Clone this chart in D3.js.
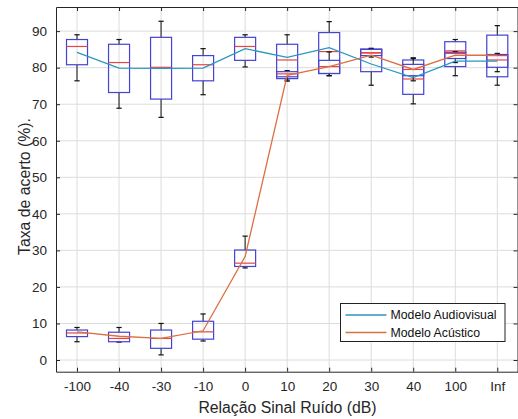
<!DOCTYPE html>
<html>
<head>
<meta charset="utf-8">
<script src="https://d3js.org/d3.v7.min.js"></script>
<style>
body { margin: 0; background: #fff; }
svg { display: block; font-family: "Liberation Sans", Arial, sans-serif; }
</style>
</head>
<body>
<svg width="518" height="419"></svg>
<script>
// SNR categories (x axis)
var categories = ["-100", "-40", "-30", "-10", "0", "10", "20", "30", "40", "100", "Inf"];
var yTicks = [0, 10, 20, 30, 40, 50, 60, 70, 80, 90];

// box stats per category: [lower whisker, q1, median, q3, upper whisker]
var audiovisualBox = [
  [76.4, 80.8, 85.8, 87.7, 89.0],
  [68.9, 73.2, 81.4, 86.4, 87.7],
  [66.4, 71.4, 80.1, 88.3, 92.7],
  [72.6, 76.4, 80.8, 83.3, 85.2],
  [80.2, 82.0, 85.8, 88.3, 89.0],
  [76.6, 77.0, 82.1, 86.4, 89.0],
  [77.8, 78.4, 84.4, 89.6, 92.6],
  [75.2, 78.9, 84.1, 85.1, 85.1],
  [70.1, 72.7, 76.9, 82.1, 82.7],
  [77.8, 80.3, 84.6, 87.1, 87.7],
  [75.2, 77.5, 82.1, 88.9, 91.5]
];
var acousticBox = [
  [5.0, 6.4, 7.4, 8.2, 8.9],
  [4.9, 5.0, 5.9, 7.6, 8.9],
  [1.4, 3.2, 5.9, 8.2, 10.0],
  [5.2, 5.7, 7.7, 10.6, 12.6],
  [25.2, 25.6, 26.5, 30.1, 33.9],
  [76.3, 77.5, 78.3, 78.9, 79.2],
  [77.8, 78.4, 80.3, 82.0, 84.3],
  [82.9, 83.3, 84.0, 85.0, 85.3],
  [76.4, 77.8, 79.5, 80.9, 82.5],
  [81.4, 82.5, 83.9, 84.2, 84.4],
  [78.9, 80.1, 83.3, 83.6, 83.9]
];

// mean accuracy lines
var audiovisualMean = [84.2, 79.9, 79.8, 79.9, 85.2, 82.8, 85.5, 81.0, 77.3, 81.8, 81.8];
var acousticMean = [7.7, 6.5, 5.9, 8.0, 28.3, 77.9, 80.3, 83.4, 79.5, 83.4, 83.4];

var seriesNames = ["Modelo Audiovisual", "Modelo Acústico"];
var seriesColors = ["#2896c2", "#dc6f42"];

var svg = d3.select("svg");
var plotL = 56, plotR = 518.3, plotT = 7, plotB = 371.7;
var ink = "#262626";

var x = d3.scaleLinear().domain([0.5, 11.5]).range([plotL, plotR]);
var y = d3.scaleLinear().domain([-3.2, 96.6]).range([plotB, plotT]);
var idx = d3.range(1, categories.length + 1);

// grid
svg.append("g").selectAll("line").data(idx).enter().append("line")
  .attr("x1", function(d){ return x(d); }).attr("x2", function(d){ return x(d); })
  .attr("y1", plotT).attr("y2", plotB)
  .attr("stroke", "#dcdcdc").attr("stroke-width", 1);
svg.append("g").selectAll("line").data(yTicks).enter().append("line")
  .attr("x1", plotL).attr("x2", plotR)
  .attr("y1", function(d){ return y(d); }).attr("y2", function(d){ return y(d); })
  .attr("stroke", "#dcdcdc").attr("stroke-width", 1);

// axes
var xAxis = d3.axisBottom(x).tickValues(idx).tickSizeInner(-4).tickSizeOuter(0)
  .tickPadding(10).tickFormat(function(d){ return categories[d - 1]; });
var gx = svg.append("g").attr("transform", "translate(0," + plotB + ")").call(xAxis);
var yAxis = d3.axisLeft(y).tickValues(yTicks).tickSizeInner(-4).tickSizeOuter(0).tickPadding(9);
var gy = svg.append("g").attr("transform", "translate(" + plotL + ",0)").call(yAxis);
[gx, gy].forEach(function(g){
  g.select(".domain").attr("stroke", ink);
  g.selectAll(".tick line").attr("stroke", ink);
  g.selectAll("text").attr("fill", ink).style("font-size", "13.5px")
    .style("font-family", "\"Liberation Sans\", Arial, sans-serif");
});
// top and right ticks
svg.append("g").attr("transform", "translate(0," + plotT + ")")
  .call(d3.axisTop(x).tickValues(idx).tickSizeInner(-4).tickSizeOuter(0).tickFormat(""))
  .call(function(g){ g.select(".domain").attr("stroke", ink); g.selectAll("line").attr("stroke", ink); });
svg.append("g").attr("transform", "translate(" + (plotR - 0.8) + ",0)")
  .call(d3.axisRight(y).tickValues(yTicks).tickSizeInner(-4).tickSizeOuter(0).tickFormat(""))
  .call(function(g){ g.select(".domain").attr("stroke", ink); g.selectAll("line").attr("stroke", ink); });

// boxplots
var boxW = x(1.25) - x(1);
var capW = boxW / 2;
function drawBoxes(stats) {
  var g = svg.append("g");
  stats.forEach(function(s, i) {
    var cx = x(i + 1);
    g.append("line").attr("x1", cx).attr("x2", cx).attr("y1", y(s[3])).attr("y2", y(s[4]))
      .attr("stroke", "#111").attr("stroke-width", 1);
    g.append("line").attr("x1", cx).attr("x2", cx).attr("y1", y(s[0])).attr("y2", y(s[1]))
      .attr("stroke", "#111").attr("stroke-width", 1);
    g.append("line").attr("x1", cx - capW / 2).attr("x2", cx + capW / 2).attr("y1", y(s[4])).attr("y2", y(s[4]))
      .attr("stroke", "#111").attr("stroke-width", 1.2);
    g.append("line").attr("x1", cx - capW / 2).attr("x2", cx + capW / 2).attr("y1", y(s[0])).attr("y2", y(s[0]))
      .attr("stroke", "#111").attr("stroke-width", 1.2);
    g.append("rect").attr("x", cx - boxW).attr("width", 2 * boxW)
      .attr("y", y(s[3])).attr("height", y(s[1]) - y(s[3]))
      .attr("fill", "none").attr("stroke", "#4343d4").attr("stroke-width", 1.2);
    g.append("line").attr("x1", cx - boxW).attr("x2", cx + boxW).attr("y1", y(s[2])).attr("y2", y(s[2]))
      .attr("stroke", "#e84444").attr("stroke-width", 1.2);
  });
}
drawBoxes(audiovisualBox);
drawBoxes(acousticBox);

// mean lines
var line = d3.line().x(function(d, i){ return x(i + 1); }).y(function(d){ return y(d); });
[audiovisualMean, acousticMean].forEach(function(s, k) {
  svg.append("path").datum(s).attr("d", line)
    .attr("fill", "none").attr("stroke", seriesColors[k]).attr("stroke-width", 1.3);
});

// axis labels
svg.append("text").attr("x", 287.5).attr("y", 413).attr("text-anchor", "middle")
  .attr("fill", ink).style("font-size", "15.8px").text("Relação Sinal Ruído (dB)");
svg.append("text").attr("transform", "translate(30,186.5) rotate(-90)").attr("text-anchor", "middle")
  .attr("fill", ink).style("font-size", "15.8px").text("Taxa de acerto (%).");

// legend
var lg = svg.append("g").attr("transform", "translate(340.5,303.5)");
lg.append("rect").attr("width", 164.5).attr("height", 38)
  .attr("fill", "#fff").attr("stroke", "#222").attr("stroke-width", 1);
seriesNames.forEach(function(n, k) {
  var ly = 11.5 + k * 17.5;
  lg.append("line").attr("x1", 5).attr("x2", 46).attr("y1", ly).attr("y2", ly)
    .attr("stroke", seriesColors[k]).attr("stroke-width", 1.3);
  lg.append("text").attr("x", 50).attr("y", ly + 4.3).attr("fill", "#111")
    .style("font-size", "12.3px").text(n);
});
</script>
</body>
</html>
